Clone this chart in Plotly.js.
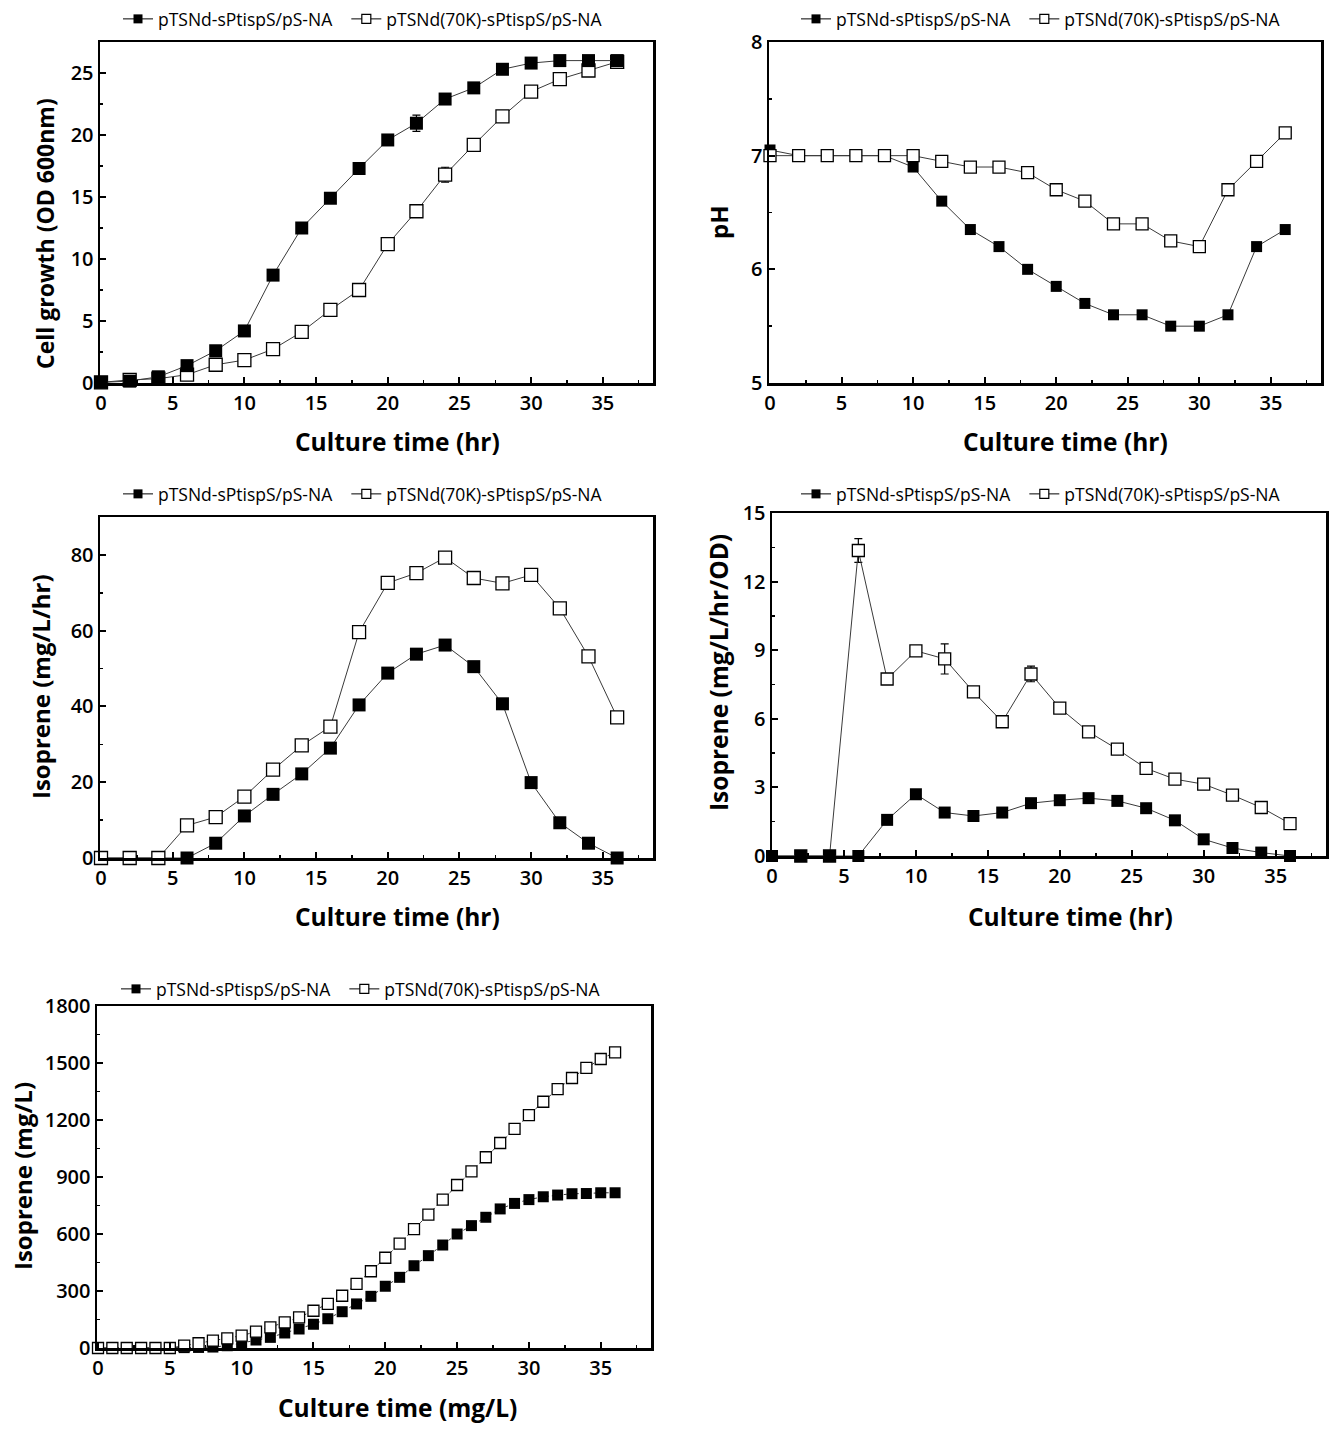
<!DOCTYPE html>
<html>
<head>
<meta charset="utf-8">
<script src="https://cdn.plot.ly/plotly-3.0.1.min.js"></script>
<style>html,body{margin:0;padding:0;background:#fff;}#chart{width:1342px;height:1429px;}</style>
</head>
<body>
<div id="chart"></div>
<script>
// ---------- data ----------
var seriesA = 'pTSNd-sPtispS/pS-NA';
var seriesB = 'pTSNd(70K)-sPtispS/pS-NA';

// Panel 1: cell growth (OD 600nm)
var timeP1 = [0,2,4,6,8,10,12,14,16,18,20,22,24,26,28,30,32,34,36];
var growthA = [0.05,0.15,0.5,1.4,2.6,4.2,8.7,12.5,14.9,17.3,19.6,20.95,22.9,23.8,25.3,25.8,26.0,26.0,26.0];
var growthAErr = [0,0,0,0,0,0,0,0,0,0,0,0.65,0,0,0,0,0,0,0];
var growthB = [0.05,0.25,0.35,0.67,1.47,1.85,2.73,4.12,5.9,7.5,11.2,13.85,16.8,19.2,21.5,23.5,24.5,25.2,25.9];
var growthBErr = [0,0,0,0,0,0,0,0,0,0.5,0,0,0.6,0,0,0,0,0,0];

// Panel 2: pH
var timeP2 = [0,2,4,6,8,10,12,14,16,18,20,22,24,26,28,30,32,34,36];
var phA = [7.05,7.0,7.0,7.0,7.0,6.9,6.6,6.35,6.2,6.0,5.85,5.7,5.6,5.6,5.5,5.5,5.6,6.2,6.35];
var phAErr = [0.03,0,0,0,0,0,0,0.03,0,0,0.03,0,0,0,0,0,0,0,0.03];
var phB = [7.0,7.0,7.0,7.0,7.0,7.0,6.95,6.9,6.9,6.85,6.7,6.6,6.4,6.4,6.25,6.2,6.7,6.95,7.2];
var phBErr = [0,0,0,0,0,0,0.03,0,0,0.03,0,0,0,0,0.03,0,0,0.03,0];

// Panel 3: isoprene productivity (mg/L/hr)
var timeP3 = [0,2,4,6,8,10,12,14,16,18,20,22,24,26,28,30,32,34,36];
var rateA = [0,0,0,0,3.9,11.1,16.8,22.2,29.0,40.4,48.8,53.8,56.2,50.5,40.7,19.9,9.3,3.9,0];
var rateB = [0,0,0,8.6,10.8,16.2,23.3,29.7,34.7,59.6,72.6,75.2,79.3,73.9,72.5,74.7,65.9,53.2,37.1];
var rateBErr = [0,0,0,0,0,0,0,0,0,0,0,0,1.5,0,0,0,1,0,1.3];

// Panel 4: specific isoprene productivity (mg/L/hr/OD)
var timeP4A = [0,2,4,6,8,10,12,14,16,18,20,22,24,26,28,30,32,34,36];
var specA = [0,0,0,0,1.58,2.70,1.90,1.75,1.90,2.31,2.44,2.53,2.41,2.09,1.56,0.73,0.35,0.15,0];
var timeP4B = [-0.85,2,4,6,8,10,12,14,16,18,20,22,24,26,28,30,32,34,36];
var specB = [0,0,0,13.36,7.74,8.97,8.62,7.18,5.87,7.96,6.47,5.43,4.67,3.83,3.36,3.14,2.66,2.12,1.42];
var specBErr = [0,0,0,0.52,0,0,0.66,0,0,0.34,0,0,0,0,0,0,0,0,0];

// Panel 5: cumulative isoprene (mg/L)
var timeP5 = [0,1,2,3,4,5,6,7,8,9,10,11,12,13,14,15,16,17,18,19,20,21,22,23,24,25,26,27,28,29,30,31,32,33,34,35,36];
var cumA = [0,0,0,0,0,0,2,3,5,12,26,42,56,79,100,125,154,191,232,272,325,372,433,486,542,600,644,688,732,761,781,796,805,812,813,817,817];
var cumB = [0,0,0,0,0,0,12,25,39,51,65,86,109,135,161,196,232,275,337,404,475,549,626,702,781,858,930,1004,1079,1153,1226,1296,1363,1421,1474,1521,1556];

// tick / title texts
var xTitle = 'Culture time (hr)';
var xTitle5 = 'Culture time (mg/L)';
var yTitles = ['Cell growth (OD 600nm)', 'pH', 'Isoprene (mg/L/hr)', 'Isoprene (mg/L/hr/OD)', 'Isoprene (mg/L)'];

// ---------- layout helpers ----------
var W = 1342, H = 1429;
function fx(px){ return px / W; }
function fy(px){ return 1 - px / H; }
var FONT = 'Open Sans, Noto Sans, DejaVu Sans, sans-serif';
var LINEC = '#3a3a3a';

function xAxis(l, r, anchor, range){
  return {
    domain: [fx(l), fx(r)], anchor: anchor, range: range,
    tickmode: 'linear', tick0: 0, dtick: 5,
    ticks: 'inside', ticklen: 6, tickwidth: 2, tickcolor: '#000',
    minor: {ticks: 'inside', ticklen: 3, tickwidth: 1.5, tickcolor: '#000', dtick: 2.5, tick0: 0},
    showline: true, linewidth: 2.5, linecolor: '#000', mirror: true,
    showgrid: false, zeroline: false,
    tickfont: {family: FONT, size: 20, color: '#000', weight: 600},
    fixedrange: true
  };
}
function yAxis(t, b, anchor, range, dtick){
  return {
    domain: [fy(b), fy(t)], anchor: anchor, range: range,
    tickmode: 'linear', tick0: 0, dtick: dtick,
    ticks: 'inside', ticklen: 6, tickwidth: 2, tickcolor: '#000',
    minor: {ticks: 'inside', ticklen: 3, tickwidth: 1.5, tickcolor: '#000', dtick: dtick / 2, tick0: 0},
    showline: true, linewidth: 2.5, linecolor: '#000', mirror: true,
    showgrid: false, zeroline: false,
    tickfont: {family: FONT, size: 20, color: '#000', weight: 600},
    fixedrange: true
  };
}

function series(x, y, err, filled, xa, ya, dash, msize){
  var t = {
    type: 'scatter', mode: 'lines+markers', x: x, y: y,
    xaxis: xa, yaxis: ya, showlegend: false, cliponaxis: false,
    line: {color: LINEC, width: 1, dash: dash || 'solid'},
    marker: {symbol: 'square', size: msize || 13,
             color: filled ? '#000' : '#fff',
             line: {color: '#000', width: filled ? 0 : 1.3}}
  };
  if (err) t.error_y = {type: 'data', array: err, visible: true, color: '#000', thickness: 1.2, width: 4};
  return t;
}
function legendItem(name, filled, leg){
  return {
    type: 'scatter', mode: 'lines+markers', x: [null], y: [null], name: name,
    legend: leg, showlegend: true, hoverinfo: 'skip',
    line: {color: '#000', width: 1},
    marker: {symbol: 'square', size: 9, color: filled ? '#000' : '#fff',
             line: {color: '#000', width: filled ? 0 : 1.2}}
  };
}

var data = [
  series(timeP1, growthB, growthBErr, false, 'x', 'y'),
  series(timeP1, growthA, growthAErr, true, 'x', 'y'),
  series(timeP2, phA, phAErr, true, 'x2', 'y2', null, 11),
  series(timeP2, phB, phBErr, false, 'x2', 'y2', null, 12),
  series(timeP3, rateA, null, true, 'x3', 'y3'),
  series(timeP3, rateB, rateBErr, false, 'x3', 'y3'),
  series(timeP4B, specB, specBErr, false, 'x4', 'y4', null, 12),
  series(timeP4A, specA, null, true, 'x4', 'y4', null, 12),
  series(timeP5, cumA, null, true, 'x5', 'y5', 'dot', 11),
  series(timeP5, cumB, null, false, 'x5', 'y5', 'dot', 11)
];
var legs = ['legend', 'legend2', 'legend3', 'legend4', 'legend5'];
legs.forEach(function(l){
  data.push(legendItem(seriesA + '\u00a0\u00a0', true, l));
  data.push(legendItem(seriesB, false, l));
});

function legendBox(xpx, ypx){
  return {
    x: fx(xpx), y: fy(ypx), xanchor: 'left', yanchor: 'middle',
    orientation: 'h', bgcolor: 'rgba(0,0,0,0)', borderwidth: 0,
    font: {family: FONT, size: 17.5, color: '#000'},
    itemwidth: 30, tracegroupgap: 0, traceorder: 'normal'
  };
}

function ann(text, xpx, ypx, rot, size){
  return {
    text: text, xref: 'paper', yref: 'paper', x: fx(xpx), y: fy(ypx),
    xanchor: 'center', yanchor: 'middle', showarrow: false, textangle: rot || 0,
    font: {family: FONT, size: size || 24.5, color: '#000', weight: 700}
  };
}

var layout = {
  width: W, height: H,
  margin: {l: 0, r: 0, t: 0, b: 0},
  paper_bgcolor: '#fff', plot_bgcolor: '#fff',
  showlegend: true,
  xaxis: xAxis(100, 653, 'y', [-0.07, 38.5]),
  yaxis: yAxis(42, 383, 'x', [0, 27.5], 5),
  xaxis2: xAxis(769, 1321, 'y2', [-0.07, 38.5]),
  yaxis2: yAxis(42, 383, 'x2', [5, 8], 1),
  xaxis3: xAxis(100, 653, 'y3', [-0.07, 38.5]),
  yaxis3: yAxis(517, 858, 'x3', [0, 90], 20),
  xaxis4: xAxis(772, 1326, 'y4', [0, 38.5]),
  yaxis4: yAxis(513, 856, 'x4', [0, 15], 3),
  xaxis5: xAxis(97, 651, 'y5', [-0.07, 38.5]),
  yaxis5: yAxis(1006, 1348, 'x5', [0, 1800], 300),
  legend: legendBox(118, 19),
  legend2: legendBox(796, 19),
  legend3: legendBox(118, 494),
  legend4: legendBox(796, 494),
  legend5: legendBox(116, 989),
  annotations: [
    ann(xTitle, 397, 441), ann(xTitle, 1065, 441),
    ann(xTitle, 397, 916), ann(xTitle, 1070, 916),
    ann(xTitle5, 397, 1407),
    ann(yTitles[0], 45, 234, -90, 23), ann(yTitles[1], 718, 222, -90, 24),
    ann(yTitles[2], 40, 687, -90, 24), ann(yTitles[3], 718, 673, -90, 24.5),
    ann(yTitles[4], 22, 1176, -90, 24)
  ]
};

Plotly.newPlot('chart', data, layout, {displayModeBar: false, staticPlot: true});
</script>
</body>
</html>
